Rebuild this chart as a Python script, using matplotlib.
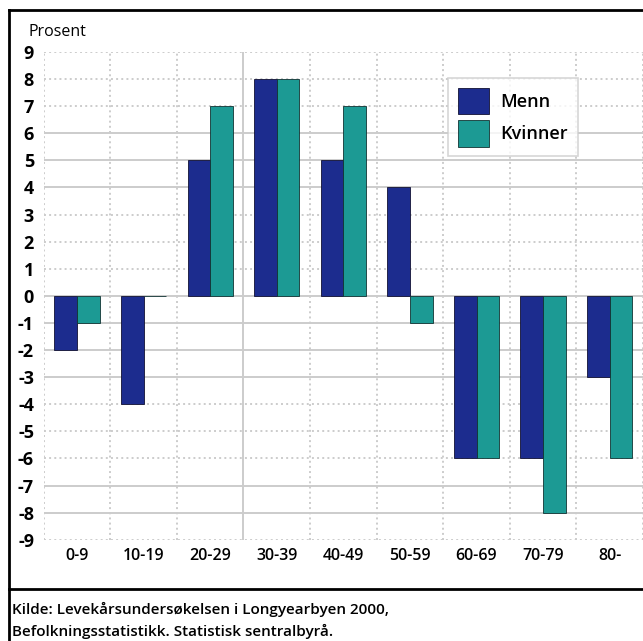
import numpy as np
import matplotlib.pyplot as plt
from matplotlib.lines import Line2D

# aldersgrupper og endring i prosent
groups = ["0-9", "10-19", "20-29", "30-39", "40-49", "50-59", "60-69", "70-79", "80-"]
menn = [-2, -4, 5, 8, 5, 4, -6, -6, -3]
kvinner = [-1, 0, 7, 8, 7, -1, -6, -8, -6]
yticks = list(range(-9, 10))
solid_y = [6, 5, 4, 0, -1, -2, -3, -7, -8]
solid_x = [3]

col_menn = "#1c2c8e"
col_kvinner = "#1c9a94"

plt.rcParams['font.family'] = ['Open Sans', 'DejaVu Sans']

fig = plt.figure(figsize=(6.43, 6.41), dpi=100)
ax = fig.add_axes([0.068, 0.158, 0.932, 0.761])

x = np.arange(len(groups))
w = 0.34
ax.bar(x - w / 2, menn, w, color=col_menn, edgecolor="#111133", linewidth=0.6, label="Menn", zorder=3)
ax.bar(x + w / 2, kvinner, w, color=col_kvinner, edgecolor="#113333", linewidth=0.6, label="Kvinner", zorder=3)

ax.set_xlim(-0.5, len(groups) - 0.5)
ax.set_ylim(-9, 9)
ax.set_yticks(yticks)
ax.set_yticklabels([str(v) for v in yticks], fontsize=13, fontweight="bold")
ax.set_xticks(x)
ax.set_xticklabels(groups, fontsize=11.5, fontweight="semibold")
ax.tick_params(length=0, pad=6)
ax.tick_params(axis="y", pad=7)

# rutenett, noen heltrukne og noen prikkete linjer
for v in yticks:
    ls = "-" if v in solid_y else ":"
    ax.axhline(v, color="#cccccc", linewidth=1.4, linestyle=ls, zorder=1)
for i in range(len(groups) + 1):
    ls = "-" if i in solid_x else ":"
    ax.axvline(i - 0.5, color="#cccccc", linewidth=1.4, linestyle=ls, zorder=1)
for s in ax.spines.values():
    s.set_visible(False)

leg = ax.legend(loc="upper left", bbox_to_anchor=(0.674, 0.947), fontsize=13,
                frameon=True, fancybox=False, edgecolor="#cccccc",
                handlelength=1.75, handleheight=1.9, borderpad=0.55,
                labelspacing=0.3, handletextpad=0.6, borderaxespad=0)
leg.get_frame().set_linewidth(1.2)
for t in leg.get_texts():
    t.set_fontweight("semibold")

fig.text(28 / 643, 1 - 32 / 641, "Prosent", fontsize=11.5, va="center", ha="left")

# ramme rundt figuren
fig.add_artist(Line2D([9 / 643, 9 / 643], [0, 1 - 10 / 641], color="black", linewidth=2))
fig.add_artist(Line2D([9 / 643, 1], [1 - 10 / 641, 1 - 10 / 641], color="black", linewidth=2))
fig.add_artist(Line2D([9 / 643, 1], [1 - 589 / 641, 1 - 589 / 641], color="black", linewidth=2))

fig.text(12 / 643, 1 - 609 / 641, "Kilde: Levekårsundersøkelsen i Longyearbyen 2000,", fontsize=11,
         fontweight="semibold", va="center")
fig.text(12 / 643, 1 - 631 / 641, "Befolkningsstatistikk. Statistisk sentralbyrå.", fontsize=11,
         fontweight="semibold", va="center")

fig.savefig("out.png", dpi=100)
